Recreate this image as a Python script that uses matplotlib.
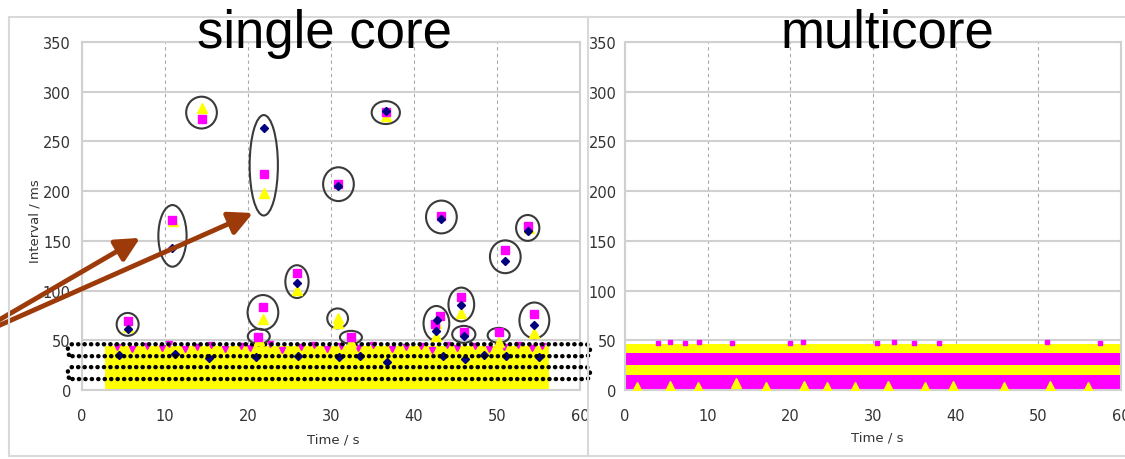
import matplotlib
matplotlib.use("Agg")
import matplotlib.pyplot as plt
from matplotlib.patches import Ellipse, FancyBboxPatch, Rectangle
from matplotlib.lines import Line2D

# ---------------- data ----------------
# single core: isolated long intervals (time s, interval ms)
sc_diamond_t = [5.5, 10.9, 21.9, 25.9, 30.9, 36.6, 43.3, 42.8, 42.6, 45.7, 46.0, 51.0, 53.7, 54.5]
sc_diamond_v = [61, 143, 264, 108, 205, 281, 172, 70, 59, 85, 54, 130, 160, 65]
sc_square_t = [5.5, 10.8, 14.4, 21.9, 21.8, 21.2, 25.9, 30.9, 32.4, 36.6, 43.3, 43.1, 42.5,
               45.7, 46.0, 50.2, 51.0, 53.7, 54.5]
sc_square_v = [69, 171, 273, 217, 83, 53, 118, 207, 53, 280, 175, 74, 66, 94, 58, 58, 141, 165, 76]
sc_tri_t = [5.5, 11.0, 14.4, 21.9, 21.8, 21.3, 25.9, 30.8, 30.8, 32.4, 36.6, 42.6, 42.7,
            45.7, 50.2, 53.8, 54.5]
sc_tri_v = [63, 170, 284, 198, 71, 50, 101, 72, 67, 48, 276, 67, 54, 77, 48, 163, 57]

# single core: dense band of regular intervals
sc_band_t = [2.8, 56.3]
sc_band_low = [0, 0]
sc_band_high = [44, 44]
sc_band_sq_t = [4.2, 6.0, 7.8, 9.6, 10.5, 12.4, 13.9, 15.6, 17.2, 19.1, 20.3, 22.6, 24.1,
                26.4, 28.0, 29.5, 31.2, 33.3, 35.0, 37.4, 39.0, 40.9, 42.2, 44.0, 45.2,
                47.3, 49.0, 50.9, 52.5, 54.2, 55.4]
sc_band_sq_v = [43, 41, 44, 42, 46, 41, 43, 45, 41, 44, 42, 46, 40, 43, 45, 41, 44, 42, 45,
                41, 43, 44, 40, 45, 42, 44, 41, 43, 45, 42, 44]
sc_band_dia_t = [4.5, 11.2, 15.3, 21.0, 26.0, 31.0, 33.5, 36.8, 43.5, 46.2, 48.4, 51.1, 55.0]
sc_band_dia_v = [35, 36, 32, 33, 34, 33, 34, 28, 34, 31, 35, 34, 33]

# multicore: stacked bands of the three series
mc_band_t = [0, 60]
mc_band_edges = [-1, 1, 15, 25, 37, 46]
mc_band_series = ["diamond", "square", "triangle", "square", "triangle"]
mc_tri_t = [1.4, 5.5, 8.8, 13.4, 17.0, 21.6, 24.4, 27.8, 31.8, 36.3, 39.7, 45.8, 51.4, 56.0]
mc_tri_v = [3, 4, 3, 7, 3, 4, 3, 3, 4, 3, 4, 3, 4, 3]
mc_sq_top_t = [4.0, 5.5, 7.2, 9.0, 13.0, 20.0, 21.5, 30.5, 32.5, 35.0, 38.0, 51.0, 57.5]
mc_sq_top_v = [47, 48, 47, 48, 47, 47, 48, 47, 48, 47, 47, 48, 47]

# circled outlier groups (annotation)
circ_t = [5.5, 10.9, 14.4, 21.9, 21.8, 21.3, 25.9, 30.9, 30.8, 32.4, 36.6, 43.3, 42.7,
          45.7, 46.0, 50.2, 51.0, 53.7, 54.5]
circ_v = [66, 155, 279, 226, 78, 54, 109, 207, 72, 53, 279, 174, 67, 86, 56, 55, 134, 163, 70]
circ_w = [2.65, 3.4, 3.7, 3.4, 3.7, 2.65, 2.8, 3.7, 2.5, 2.65, 3.4, 3.7, 3.1, 3.1, 2.8,
          2.65, 3.7, 2.8, 3.6]
circ_h = [23, 62, 32, 101, 35, 15, 33, 34, 20, 13, 23, 33, 35, 34, 17, 15, 33, 26, 36]

x_ticks = [0, 10, 20, 30, 40, 50, 60]
y_ticks = [0, 50, 100, 150, 200, 250, 300, 350]

colors = {"diamond": "#000080", "square": "#FF00FF", "triangle": "#FFFF00"}

# ---------------- figure ----------------
W, H = 1125, 460
fig = plt.figure(figsize=(W / 100, H / 100), dpi=100)
fig.patch.set_facecolor("white")

# chart-area frames
fig.add_artist(Rectangle((9 / W, 1 - 457 / H), (588 - 9) / W, (457 - 18) / H,
                         transform=fig.transFigure, fill=False, ec="#d9d9d9", lw=1.5))
for xs, ys in [([588, 1125], [18, 18]), ([588, 1125], [457, 457])]:
    fig.add_artist(Line2D([x / W for x in xs], [1 - y / H for y in ys],
                          transform=fig.transFigure, color="#d9d9d9", lw=1.5))

axL = fig.add_axes([82 / W, 1 - 391 / H, 498 / W, 348 / H])
axR = fig.add_axes([625 / W, 1 - 391 / H, 496 / W, 348 / H])

for ax in (axL, axR):
    ax.set_xlim(0, 60)
    ax.set_ylim(0, 350)
    ax.set_xticks(x_ticks)
    ax.set_yticks(y_ticks)
    ax.tick_params(length=0, labelsize=10.5, labelcolor="#333333")
    ax.tick_params(axis="y", pad=8)
    ax.tick_params(axis="x", pad=13)
    ax.grid(axis="y", color="#d0d0d0", lw=1.5, zorder=0)
    ax.grid(axis="x", color="#a8a8a8", lw=0.8, ls=(0, (3, 3)), zorder=0)
    ax.set_axisbelow(True)
    for s in ax.spines.values():
        s.set_color("#d0d0d0")
        s.set_linewidth(1.5)
axR.tick_params(axis="y", pad=6)

# ---- single core ----
axL.fill_between(sc_band_t, sc_band_low, sc_band_high, color=colors["triangle"], lw=0, zorder=2)
axL.plot(sc_band_sq_t, sc_band_sq_v, ls="none", marker="v", ms=5, color=colors["square"], zorder=3)
axL.plot(sc_band_dia_t, sc_band_dia_v, ls="none", marker="D", ms=4, color=colors["diamond"], zorder=3)

for (y0, y1) in [(34, 46), (11, 23)]:
    box = FancyBboxPatch((-1.7, y0), 61.2 + 1.7, y1 - y0,
                         boxstyle="round,pad=0,rounding_size=0.55", mutation_aspect=8.3,
                         fill=False, ec="black", lw=3.2, ls=(0, (0.05, 1.4)),
                         capstyle="round", clip_on=False, zorder=4)
    axL.add_patch(box)

for t, v, w, h in zip(circ_t, circ_v, circ_w, circ_h):
    axL.add_patch(Ellipse((t, v), w, h, fill=False, ec="#3a3a3a", lw=1.5, zorder=5))

axL.plot(sc_tri_t, sc_tri_v, ls="none", marker="^", ms=6.5, color=colors["triangle"], zorder=6)
axL.plot(sc_square_t, sc_square_v, ls="none", marker="s", ms=5.5, color=colors["square"], zorder=6)
axL.plot(sc_diamond_t, sc_diamond_v, ls="none", marker="D", ms=4.5, color=colors["diamond"], zorder=6)

arrow_c = "#9C3A0A"
for (xs, ys), (xe, ye) in [((-10.5, 68), (7.0, 153)), ((-10.5, 63), (20.6, 178))]:
    axL.annotate("", xy=(xe, ye), xytext=(xs, ys), annotation_clip=False,
                 arrowprops=dict(arrowstyle="-|>,head_length=0.8,head_width=0.4",
                                 color=arrow_c, lw=3.5, mutation_scale=18,
                                 shrinkA=0, shrinkB=0), zorder=7)

# ---- multicore ----
for i, s in enumerate(mc_band_series):
    axR.fill_between(mc_band_t, mc_band_edges[i], mc_band_edges[i + 1],
                     color=colors[s], lw=0, zorder=2, clip_on=False)
axR.plot(mc_sq_top_t, mc_sq_top_v, ls="none", marker="s", ms=3.5, color=colors["square"], zorder=3)
axR.plot(mc_tri_t, mc_tri_v, ls="none", marker="^", ms=6.5, color=colors["triangle"], zorder=3)

# ---- texts ----
fig.text(325 / W, 1 - 48 / H, "single core", fontsize=38, family="Liberation Sans",
         ha="center", va="baseline")
fig.text(887 / W, 1 - 48 / H, "multicore", fontsize=38, family="Liberation Sans",
         ha="center", va="baseline")
fig.text(35 / W, 1 - 221 / H, "Interval / ms", rotation=90, fontsize=9.5, color="#333333",
         ha="center", va="center")
fig.text(333 / W, 1 - 440 / H, "Time / s", fontsize=9.5, color="#333333", ha="center", va="center")
fig.text(877 / W, 1 - 438 / H, "Time / s", fontsize=9.5, color="#333333", ha="center", va="center")

fig.savefig("out.png", dpi=100)
